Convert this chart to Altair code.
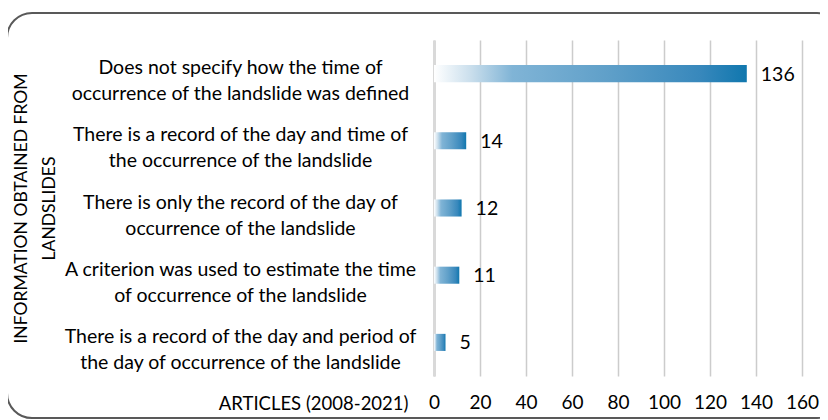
import altair as alt
import pandas as pd

categories = [
    "Does not specify how the time of\noccurrence of the landslide was defined",
    "There is a record of the day and time of\nthe occurrence of the landslide",
    "There is only the record of the day of\noccurrence of the landslide",
    "A criterion was used to estimate the time\nof occurrence of the landslide",
    "There is a record of the day and period of\nthe day of occurrence of the landslide",
]
articles = [136, 14, 12, 11, 5]
x_ticks = [0, 20, 40, 60, 80, 100, 120, 140, 160]
y_title = ["INFORMATION OBTAINED FROM", "LANDSLIDES"]
x_title = "ARTICLES (2008-2021)"

df = pd.DataFrame({"info": categories, "articles": articles})

FONT = "Lato"

grad = alt.Gradient(
    gradient="linear", x1=0, x2=1, y1=0, y2=0,
    stops=[
        alt.GradientStop(offset=0, color="#ffffff"),
        alt.GradientStop(offset=0.12, color="#c9deec"),
        alt.GradientStop(offset=0.25, color="#80b4d6"),
        alt.GradientStop(offset=0.55, color="#60a0c9"),
        alt.GradientStop(offset=0.85, color="#3888bc"),
        alt.GradientStop(offset=1, color="#1077ae"),
    ],
)

x_enc = alt.X(
    "articles:Q",
    scale=alt.Scale(domain=[0, 160], nice=False),
    axis=alt.Axis(
        values=x_ticks, title=x_title, grid=True, gridColor="#cccccc", gridWidth=1.5,
        domain=False, ticks=False, tickSize=0, labelPadding=17, labelOverlap=False,
        labelFlush=False, labelBound=False,
        labelFont=FONT, labelFontSize=19, labelColor="black",
        titleFont=FONT, titleFontSize=18.5, titleFontWeight="normal", titleColor="black",
        titleX=-26, titleY=33, titleAlign="right", titleBaseline="alphabetic",
    ),
)
y_enc = alt.Y(
    "info:N", sort=None,
    scale=alt.Scale(paddingInner=0.746, paddingOuter=0.373),
    axis=alt.Axis(
        title=y_title, labelExpr="split(datum.label, '\\n')",
        labelAlign="center", labelBaseline="middle", labelPadding=194, labelOffset=-5.5,
        labelLineHeight=26, labelLimit=500, labelFont=FONT, labelFontSize=19.5, labelColor="black",
        ticks=False, tickSize=0, domainColor="#d9d9d9", domainWidth=3, grid=False,
        titleFont=FONT, titleFontSize=17.5, titleFontWeight="normal", titleColor="black",
        titleAngle=-90, titleX=-422, titleY=168, titleAlign="center", titleBaseline="top",
        titleLineHeight=28,
    ),
)

base = alt.Chart(df)
bars = base.mark_bar(color=grad).encode(x=x_enc, y=y_enc)
labels = base.mark_text(align="left", baseline="middle", dx=14, dy=1, font=FONT,
                        fontSize=19.5, color="black").encode(
    x="articles:Q", y=alt.Y("info:N", sort=None), text="articles:Q")

frame = alt.Chart(alt.Data(values=[{}])).mark_rect(
    fillOpacity=0, stroke="#595959", strokeWidth=2, cornerRadius=25
).encode(x=alt.value(-427), x2=alt.value(408), y=alt.value(-27), y2=alt.value(378))

chart = alt.layer(frame, bars, labels).properties(
    width=368, height=336,
    autosize=alt.AutoSizeParams(type="none"),
    padding={"left": 426, "top": 32, "right": 18, "bottom": 44},
    background="white",
).configure_view(stroke=None)

chart.save("out.html", embed_options={"renderer": "svg", "actions": False})
